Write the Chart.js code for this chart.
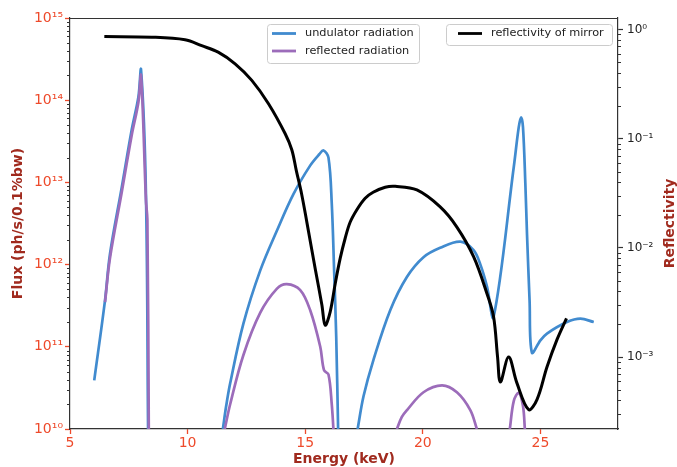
<!DOCTYPE html>
<html>
<head>
<meta charset="utf-8">
<script src="https://cdn.jsdelivr.net/npm/chart.js@4.4.1/dist/chart.umd.min.js"></script>
<style>
  html, body { margin: 0; padding: 0; background: #ffffff; }
  #wrap { width: 677px; height: 467px; position: relative; }
</style>
</head>
<body>
<div id="wrap"><canvas id="c" width="677" height="467"></canvas></div>
<script>
// Axis ticks
const energyTicks = [5, 10, 15, 20, 25];
const fluxTicks = [1e10, 1e11, 1e12, 1e13, 1e14, 1e15];
const reflTicks = [1e-3, 1e-2, 1e-1, 1];

// Undulator radiation flux (ph/s/0.1%bw); null separates branches
const undulatorEnergy = [6.03, 6.49, 6.70, 7.20, 7.62, 7.91, 8.02, 8.23, 8.32, 10.0,
  11.50, 11.64, 11.81, 12.37, 13.09, 13.80, 14.50, 15.21, 15.60, 15.78, 15.99, 16.13, 16.23, 16.32, 16.40, 16.8,
  17.23, 17.48, 17.90, 18.62, 19.33, 20.03, 20.74, 21.60, 22.16, 22.45, 22.73, 23.01,
  23.87, 24.08, 24.18, 24.26, 24.36, 24.43, 24.54, 24.64, 25.00, 25.28, 26.13, 26.70, 27.27];
const undulatorFlux = [3.9e10, 3.7e11, 1.35e12, 8.7e12, 4.3e13, 1.1e14, 2.35e14, 7e12, 1e10, null,
  1e10, 1.9e10, 3.6e10, 1.9e11, 8.5e11, 2.6e12, 7.2e12, 1.6e13, 2.2e13, 2.45e13, 2.0e13, 5.5e12, 8.5e11, 1.3e11, 1e10, null,
  1e10, 2.5e10, 6.9e10, 2.8e11, 7.1e11, 1.23e12, 1.6e12, 1.9e12, 1.5e12, 1.0e12, 5.4e11, 2.3e11,
  1.55e13, 4.7e13, 6.2e13, 4.7e13, 9.8e12, 2.4e12, 3.7e11, 8.5e10, 1.2e11, 1.45e11, 2.0e11, 2.2e11, 2.0e11];

// Radiation after reflection from the mirror
const reflectedEnergy = [6.49, 6.70, 7.20, 7.62, 7.91, 8.02, 8.23, 8.29, 8.35, 10.0,
  11.58, 11.81, 12.37, 13.09, 13.80, 14.22, 14.79, 15.21, 15.64, 15.80, 15.99, 16.13, 16.20, 17.5,
  18.90, 19.11, 19.33, 20.03, 20.82, 21.45, 22.02, 22.30, 23.0,
  23.70, 23.87, 24.08, 24.26, 24.34];
const reflectedFlux = [3.5e11, 1.2e12, 7.6e12, 3.7e13, 9.5e13, 2.0e14, 6.0e12, 3.5e12, 1e10, null,
  1e10, 2.0e10, 7.9e10, 2.6e11, 5.1e11, 5.8e11, 4.9e11, 2.8e11, 1.0e11, 5.2e10, 4.6e10, 2.0e10, 1e10, null,
  1e10, 1.4e10, 1.7e10, 2.8e10, 3.4e10, 2.8e10, 1.7e10, 1e10, null,
  1e10, 2.2e10, 2.75e10, 1.9e10, 1e10];

// Mirror reflectivity
const mirrorEnergy = [6.46, 8.48, 9.89, 10.60, 11.30, 12.02, 12.73, 13.44, 14.15, 14.43, 14.62, 14.85, 15.07, 15.43,
  15.71, 15.85, 16.06, 16.28, 16.49, 16.70, 16.91, 17.21, 17.55, 17.89, 18.40, 18.83, 19.75, 20.74, 21.45, 22.16, 22.73,
  23.01, 23.18, 23.30, 23.65, 24.00, 24.50, 24.86, 25.28, 25.71, 26.11];
const mirrorReflectivity = [0.86, 0.85, 0.805, 0.71, 0.62, 0.485, 0.342, 0.209, 0.111, 0.0792, 0.0513, 0.031, 0.0172, 0.00638,
  0.0030, 0.00196, 0.00258, 0.00475, 0.00804, 0.01224, 0.01717, 0.0226, 0.0285, 0.0323, 0.0359, 0.0366, 0.0339, 0.0237, 0.0155, 0.0083, 0.0038,
  0.00234, 0.0010, 0.00059, 0.0010, 0.00058, 0.00033, 0.00041, 0.00081, 0.00145, 0.00226];

const TICK_RED = '#ee4a2b';
const TITLE_RED = '#a02a1e';
const BLUE = '#418bcf';
const PURPLE = '#9c6cba';
const FONT = "'DejaVu Sans', 'Liberation Sans', sans-serif";

const toPoints = (xs, ys) => xs.map((x, i) => ({ x: x, y: ys[i] }));

const SUP = { '0': '\u2070', '1': '\u00b9', '2': '\u00b2', '3': '\u00b3', '4': '\u2074', '5': '\u2075',
  '6': '\u2076', '7': '\u2077', '8': '\u2078', '9': '\u2079', '-': '\u207b' };
const powerLabel = v => '10' + String(Math.round(Math.log10(v))).split('').map(ch => SUP[ch]).join('');

// Minor log ticks, top frame line, axis titles and the two legend boxes
const decorations = {
  id: 'decorations',
  afterDraw(chart) {
    const ctx = chart.ctx;
    const a = chart.chartArea;
    const ys = chart.scales.y, y2 = chart.scales.y2;
    ctx.save();
    ctx.strokeStyle = '#333';
    ctx.lineWidth = 1;
    ctx.beginPath();
    for (let e = 10; e < 15; e++) {
      for (let m = 2; m <= 9; m++) {
        const p = Math.round(ys.getPixelForValue(m * Math.pow(10, e))) + 0.5;
        ctx.moveTo(a.left - 3, p); ctx.lineTo(a.left, p);
      }
    }
    for (let e = -4; e <= 0; e++) {
      for (let m = 2; m <= 9; m++) {
        const v = m * Math.pow(10, e);
        if (v < y2.min || v > y2.max) continue;
        const p = Math.round(y2.getPixelForValue(v)) + 0.5;
        ctx.moveTo(a.right, p); ctx.lineTo(a.right + 3, p);
      }
    }
    ctx.moveTo(a.left, Math.round(a.top) + 0.5);
    ctx.lineTo(a.right, Math.round(a.top) + 0.5);
    ctx.stroke();

    // axis titles
    ctx.fillStyle = TITLE_RED;
    ctx.font = 'bold 14px ' + FONT;
    ctx.textAlign = 'center';
    ctx.textBaseline = 'middle';
    ctx.fillText('Energy (keV)', (a.left + a.right) / 2, 459);
    ctx.save();
    ctx.translate(18, (a.top + a.bottom) / 2);
    ctx.rotate(-Math.PI / 2);
    ctx.fillText('Flux (ph/s/0.1%bw)', 0, 0);
    ctx.restore();
    ctx.save();
    ctx.translate(670, (a.top + a.bottom) / 2);
    ctx.rotate(-Math.PI / 2);
    ctx.fillText('Reflectivity', 0, 0);
    ctx.restore();

    // legends
    const box = (x, y, w, h) => {
      ctx.beginPath();
      ctx.roundRect(x + 0.5, y + 0.5, w, h, 3);
      ctx.fillStyle = 'rgba(255,255,255,0.8)';
      ctx.fill();
      ctx.strokeStyle = '#cccccc';
      ctx.lineWidth = 1;
      ctx.stroke();
    };
    const entry = (x, y, color, label) => {
      ctx.beginPath();
      ctx.moveTo(x, y); ctx.lineTo(x + 24, y);
      ctx.strokeStyle = color; ctx.lineWidth = 2.8;
      ctx.stroke();
      ctx.fillStyle = '#222';
      ctx.font = '11.3px ' + FONT;
      ctx.textAlign = 'left';
      ctx.textBaseline = 'middle';
      ctx.fillText(label, x + 33, y);
    };
    box(267, 24, 152, 39);
    entry(272, 33.5, BLUE, 'undulator radiation');
    entry(272, 51, PURPLE, 'reflected radiation');
    box(446, 24, 166, 21);
    entry(458, 33.5, '#000000', 'reflectivity of mirror');
    ctx.restore();
  }
};

new Chart(document.getElementById('c'), {
  type: 'line',
  data: {
    datasets: [
      { label: 'reflectivity of mirror', data: toPoints(mirrorEnergy, mirrorReflectivity), yAxisID: 'y2',
        borderColor: '#000000', borderWidth: 3 },
      { label: 'reflected radiation', data: toPoints(reflectedEnergy, reflectedFlux), yAxisID: 'y',
        borderColor: PURPLE, borderWidth: 2.7 },
      { label: 'undulator radiation', data: toPoints(undulatorEnergy, undulatorFlux), yAxisID: 'y',
        borderColor: BLUE, borderWidth: 2.7 }
    ]
  },
  options: {
    responsive: false,
    animation: false,
    devicePixelRatio: 1,
    layout: { padding: { top: 18, left: 0, right: 0, bottom: 0 } },
    datasets: { line: { pointRadius: 0, fill: false, tension: 0.35, clip: 0, spanGaps: false, borderJoinStyle: 'round' } },
    plugins: { legend: { display: false }, tooltip: { enabled: false } },
    scales: {
      x: {
        type: 'linear', min: 5, max: 28.3,
        afterBuildTicks: s => { s.ticks = energyTicks.map(v => ({ value: v })); },
        afterFit: s => { s.height = 38; },
        ticks: { color: TICK_RED, font: { family: FONT, size: 14 }, padding: 1, autoSkip: false, maxRotation: 0 },
        grid: { drawOnChartArea: false, tickLength: 5, tickColor: TICK_RED, tickWidth: 1.3 },
        border: { color: '#333', width: 1.2 }
      },
      y: {
        type: 'logarithmic', position: 'left', min: 1e10, max: 1e15,
        afterBuildTicks: s => { s.ticks = fluxTicks.map(v => ({ value: v })); },
        afterFit: s => { s.width = 70; },
        ticks: { color: TICK_RED, font: { family: FONT, size: 14 }, padding: 2, autoSkip: false, callback: v => powerLabel(v) },
        grid: { drawOnChartArea: false, tickLength: 5, tickColor: TICK_RED, tickWidth: 1.3 },
        border: { color: '#333', width: 1.2 }
      },
      y2: {
        type: 'logarithmic', position: 'right', min: Math.pow(10, -3.659), max: Math.pow(10, 0.105),
        afterBuildTicks: s => { s.ticks = reflTicks.map(v => ({ value: v })); },
        afterFit: s => { s.width = 59; },
        ticks: { color: '#222', font: { family: FONT, size: 12 }, padding: 4, autoSkip: false, callback: v => powerLabel(v) },
        grid: { drawOnChartArea: false, tickLength: 5, tickColor: '#333', tickWidth: 1.2 },
        border: { color: '#333', width: 1.2 }
      }
    }
  },
  plugins: [decorations]
});
</script>
</body>
</html>
